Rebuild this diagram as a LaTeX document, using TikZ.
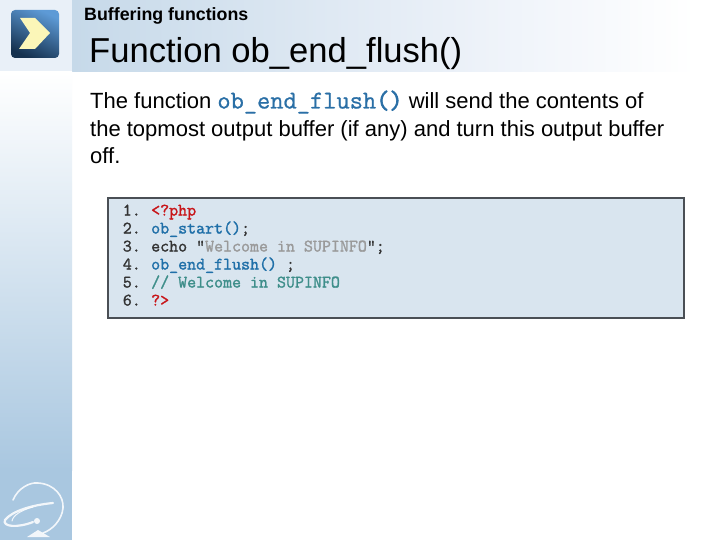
\documentclass[tikz,border=0pt]{standalone}
\usepackage{fontspec}
\setmainfont{Liberation Sans}
\newfontfamily\codefont[FakeBold=1.6]{Latin Modern Mono}
\newfontfamily\inlinefont[FakeBold=0.8]{Latin Modern Mono}
\newfontfamily\inlinebold[FakeBold=2.5]{Latin Modern Mono}
\definecolor{bandA}{HTML}{C6D9E9}
\definecolor{bandM}{HTML}{DCE7F2}
\definecolor{bandB}{HTML}{EDF2F9}
\definecolor{sideB}{HTML}{A9C7E0}
\definecolor{cornerbg}{HTML}{E9F0F8}
\definecolor{codebg}{HTML}{D9E5EF}
\definecolor{codeframe}{HTML}{4A4F55}
\definecolor{kwblue}{HTML}{1F6FA8}
\definecolor{kwred}{HTML}{C81418}
\definecolor{kwgray}{HTML}{9A9A9A}
\definecolor{kwgreen}{HTML}{3E8E8A}
\definecolor{numcol}{HTML}{333333}
\definecolor{iconA}{HTML}{5D9AD6}
\definecolor{iconB}{HTML}{15314F}
\definecolor{chev}{HTML}{FBF6B8}
\definecolor{inlinecode}{HTML}{2A6FA6}
\tikzset{
  codeline/.style={anchor=base west,inner sep=0pt,font=\fontsize{17.45}{18}\codefont},
  numline/.style={anchor=base east,inner sep=0pt,font=\fontsize{17.45}{18}\codefont,text=numcol},
  logoline/.style={draw=white,line cap=round,opacity=.85}
}
\begin{document}
\begin{tikzpicture}[x=1pt,y=-1pt]
\useasboundingbox (0,0) rectangle (720,540);
\fill[white] (0,0) rectangle (720,540);
\fill[cornerbg] (0,0) rectangle (72,72);
\shade[left color=bandA,right color=bandM] (72,0) rectangle (300,72);
\shade[left color=bandM,right color=bandB] (300,0) rectangle (480,72);
\shade[left color=bandB,right color=white] (480,0) rectangle (695,72);
\shade[top color=white,bottom color=sideB] (0,72) rectangle (72,470);
\fill[sideB] (0,470) rectangle (72,540);
% icon
\shade[rounded corners=4pt,top color=iconA,bottom color=iconB,shading angle=-25] (11,10) rectangle (59,58);
\fill[chev] (20,18) -- (35,18) -- (50,33) -- (35,49) -- (19,49) -- (30,33) -- cycle;
% logo
\draw[logoline,line width=1.6pt] (13,500) .. controls (18,488) and (30,482) .. (38,483) .. controls (55,484) and (64,497) .. (63,508) .. controls (62,520) and (52,530) .. (43,533);
\draw[logoline,line width=2.2pt] (53,503) .. controls (32,505) and (12,511) .. (5,520) .. controls (2,527) and (18,528) .. (33,522);
\draw[logoline,line width=1pt] (33,507) .. controls (22,510) and (13,515) .. (12,521);
\fill[white,opacity=.85] (37,521) circle (3pt);
\fill[white,opacity=.85] (27,537) -- (38,530) -- (50,537) -- cycle;
% headings
\node[anchor=base west,inner sep=0pt,font=\fontsize{17.8}{20}\selectfont\bfseries] (sect) at (84,21) {Buffering functions};
\node[anchor=base west,inner sep=0pt,font=\fontsize{34.6}{38}\selectfont] (title) at (89,63) {Function ob\_end\_flush()};
% body
\node[anchor=base west,inner sep=0pt,font=\fontsize{22}{28}\selectfont] (l1) at (90,108.5) {The function {\fontsize{25.7}{28}\inlinefont\textcolor{inlinecode}{ob\_end\_flush{\inlinebold()}}} will send the contents of};
\node[anchor=base west,inner sep=0pt,font=\fontsize{22}{28}\selectfont] (l2) at (90,136.5) {the topmost output buffer (if any) and turn this output buffer};
\node[anchor=base west,inner sep=0pt,font=\fontsize{22}{28}\selectfont] (l3) at (90,163.5) {off.};
% code box
\draw[draw=codeframe,fill=codebg,line width=1.8pt] (108,198) rectangle (684,318);
\foreach \n/\y in {1/215.5,2/233.5,3/251.5,4/269.5,5/287.5,6/305.5}
  \node[numline] (num\n) at (141,\y) {\n.};
\node[codeline] (c1) at (151,215.5) {\textcolor{kwred}{<?php}};
\node[codeline] (c2) at (151,233.5) {\textcolor{kwblue}{ob\_start()}\textcolor{numcol}{;}};
\node[codeline] (c3) at (151,251.5) {\textcolor{numcol}{echo "}\textcolor{kwgray}{Welcome in SUPINFO}\textcolor{numcol}{";}};
\node[codeline] (c4) at (151,269.5) {\textcolor{kwblue}{ob\_end\_flush()}\textcolor{numcol}{~;}};
\node[codeline] (c5) at (151,287.5) {\textcolor{kwgreen}{// Welcome in SUPINFO}};
\node[codeline] (c6) at (151,305.5) {\textcolor{kwred}{?>}};
\end{tikzpicture}
\end{document}
